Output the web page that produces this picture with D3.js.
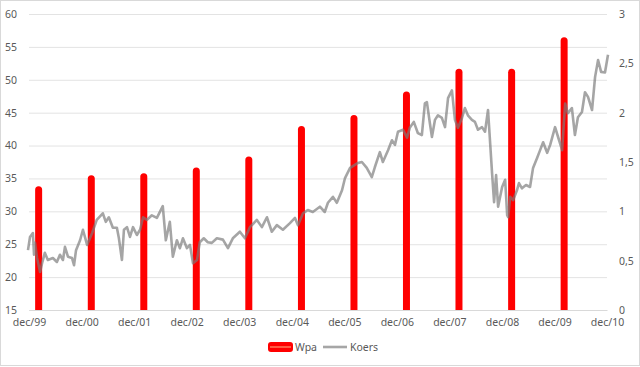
<!DOCTYPE html>
<html><head><meta charset="utf-8">
<script src="https://cdn.jsdelivr.net/npm/d3@7"></script>
<style>
body{margin:0;background:#fff;}
text{font-family:"Noto Sans","Open Sans",sans-serif;fill:#595959;}
</style></head>
<body><svg id="c" width="640" height="367"></svg>
<script>
// ---- data ----
const tickLabels = ["dec/99","dec/00","dec/01","dec/02","dec/03","dec/04","dec/05","dec/06","dec/07","dec/08","dec/09","dec/10"];
const tickDates = ["1999-12-01","2000-12-01","2001-12-01","2002-12-01","2003-12-01","2004-12-01","2005-12-01","2006-12-01","2007-12-01","2008-12-01","2009-12-01","2010-12-01"];
const leftTicks = [15,20,25,30,35,40,45,50,55,60];
const rightTicks = [0,0.5,1,1.5,2,2.5,3];
const rightTickLabels = ["0","0,5","1","1,5","2","2,5","3"];

const wpaDates = ["2000-02-06","2001-02-06","2002-02-06","2003-02-06","2004-02-06","2005-02-06","2006-02-06","2007-02-06","2008-02-06","2009-02-06","2010-02-06"];
const wpaValues = [1.22,1.33,1.35,1.41,1.52,1.83,1.94,2.18,2.41,2.41,2.73];

const koersDates = ["1999-11-24","1999-12-08","1999-12-28","2000-01-05","2000-01-12","2000-01-26","2000-02-16","2000-03-01","2000-03-20","2000-04-10","2000-05-15","2000-06-12","2000-07-03","2000-07-24","2000-08-07","2000-08-28","2000-09-25","2000-10-09","2000-10-23","2000-11-20","2000-12-10","2001-01-08","2001-02-12","2001-03-16","2001-04-27","2001-05-18","2001-06-08","2001-07-06","2001-08-03","2001-08-17","2001-09-07","2001-09-21","2001-10-12","2001-11-02","2001-11-23","2001-12-20","2002-01-11","2002-02-01","2002-02-28","2002-04-03","2002-05-08","2002-06-18","2002-07-09","2002-08-06","2002-08-27","2002-09-24","2002-10-15","2002-11-05","2002-12-03","2002-12-24","2003-01-14","2003-02-11","2003-03-02","2003-03-30","2003-04-27","2003-05-25","2003-06-29","2003-08-10","2003-09-14","2003-10-18","2003-12-06","2004-01-10","2004-02-14","2004-04-02","2004-05-07","2004-06-11","2004-07-15","2004-08-19","2004-09-30","2004-11-18","2004-12-23","2005-01-13","2005-02-17","2005-03-22","2005-04-26","2005-06-14","2005-07-18","2005-08-09","2005-09-13","2005-10-10","2005-11-15","2005-12-05","2006-01-10","2006-02-28","2006-04-02","2006-05-06","2006-06-10","2006-07-01","2006-08-05","2006-08-26","2006-10-01","2006-10-28","2006-11-18","2006-12-09","2007-01-13","2007-02-10","2007-03-01","2007-03-29","2007-04-26","2007-05-24","2007-06-14","2007-06-28","2007-07-18","2007-08-02","2007-08-23","2007-09-13","2007-10-10","2007-11-01","2007-11-22","2007-12-19","2008-01-09","2008-01-30","2008-02-27","2008-03-18","2008-04-08","2008-05-06","2008-05-27","2008-06-17","2008-07-15","2008-08-05","2008-08-26","2008-09-23","2008-10-07","2008-10-21","2008-11-04","2008-12-02","2008-12-23","2009-01-06","2009-01-13","2009-01-27","2009-02-17","2009-03-15","2009-03-29","2009-04-19","2009-05-17","2009-06-14","2009-07-05","2009-08-02","2009-08-23","2009-09-13","2009-10-11","2009-11-01","2009-12-05","2009-12-26","2010-01-23","2010-02-13","2010-03-04","2010-04-01","2010-04-22","2010-05-13","2010-06-10","2010-07-01","2010-07-22","2010-08-19","2010-09-09","2010-09-30","2010-10-21","2010-11-17","2010-12-08"];
const koersValues = [24.1,26.1,26.7,23.4,25.2,22.9,20.8,22.1,23.7,22.6,22.9,22.3,23.4,22.6,24.6,23.1,22.9,21.8,24.1,25.6,27.2,24.9,26.7,28.7,29.7,28.4,29.1,27.5,27.5,25.9,22.6,27.2,27.6,26.1,27.6,26.4,27.2,29.1,28.7,29.4,29.0,30.8,25.6,28.4,23.1,25.6,24.4,25.9,24.4,24.9,22.1,22.6,25.3,25.9,25.3,25.2,25.9,25.7,24.4,25.9,26.9,25.9,27.6,28.7,27.6,29.1,26.9,27.9,27.2,28.2,29.0,27.9,29.7,30.2,29.9,30.7,29.9,31.3,32.2,31.3,33.2,35.0,36.6,37.3,37.5,36.6,35.2,36.7,39.0,37.5,39.3,40.8,40.1,42.1,42.4,41.2,42.7,43.6,41.9,41.6,46.4,46.6,43.5,41.3,43.9,44.6,44.2,42.8,47.2,48.4,43.9,42.7,44.2,45.7,44.6,43.9,43.6,42.4,42.8,42.1,45.4,35.8,31.4,35.5,30.7,33.7,34.8,29.4,29.1,32.2,31.7,33.2,34.3,33.5,34.0,33.7,36.6,38.1,39.3,40.5,38.9,40.1,42.8,41.3,39.3,46.4,44.9,45.7,41.6,44.3,45.1,48.1,47.4,45.4,50.4,53.0,51.2,51.1,53.8];

// ---- layout ----
const W = 640, H = 367;
const L = 29, R = 607, T = 14, B = 310;
const parse = d3.timeParse("%Y-%m-%d");
const svg = d3.select("#c");

svg.append("rect").attr("x",0.5).attr("y",0.5).attr("width",W-1).attr("height",H-2)
  .attr("fill","#fff").attr("stroke","#d9d9d9");

const x = d3.scaleTime().domain([parse(tickDates[0]), parse(tickDates[tickDates.length-1])]).range([L,R]);
const yL = d3.scaleLinear().domain([15,60]).range([B,T]);
const yR = d3.scaleLinear().domain([0,3]).range([B,T]);

// gridlines
svg.append("g").selectAll("line").data(leftTicks).join("line")
  .attr("x1",L).attr("x2",R).attr("y1",d=>yL(d)+0.5).attr("y2",d=>yL(d)+0.5)
  .attr("stroke","#e3e3e3").attr("stroke-width",1);

// left axis
const axL = svg.append("g").attr("transform",`translate(${L-9},0)`)
  .call(d3.axisLeft(yL).tickValues(leftTicks).tickSize(0).tickFormat(d3.format("d")));
axL.select(".domain").remove();
axL.selectAll("text").attr("font-size","10.5px").attr("fill","#595959").style("font-family","Noto Sans");

// right axis
const axR = svg.append("g").attr("transform",`translate(${R+9},0)`)
  .call(d3.axisRight(yR).tickValues(rightTicks).tickSize(0).tickFormat((d,i)=>rightTickLabels[i]));
axR.select(".domain").remove();
axR.selectAll("text").attr("font-size","10.5px").attr("fill","#595959").style("font-family","Noto Sans");

// bottom axis
const tickD = tickDates.map(parse);
const axB = svg.append("g").attr("transform",`translate(0,${B})`)
  .call(d3.axisBottom(x).tickValues(tickD).tickSize(0).tickPadding(9).tickFormat((d,i)=>tickLabels[i]));
axB.select(".domain").attr("stroke","#d9d9d9");
axB.selectAll("text").attr("font-size","10.5px").attr("fill","#595959").style("font-family","Noto Sans");

// bars (Wpa)
svg.append("defs").append("clipPath").attr("id","clip")
  .append("rect").attr("x",0).attr("y",0).attr("width",W).attr("height",B);
svg.append("g").attr("clip-path","url(#clip)").selectAll("line").data(wpaValues).join("line")
  .attr("x1",(d,i)=>x(parse(wpaDates[i]))).attr("x2",(d,i)=>x(parse(wpaDates[i])))
  .attr("y1",yR(0)+4).attr("y2",d=>yR(d))
  .attr("stroke","#ff0000").attr("stroke-width",7).attr("stroke-linecap","round");

// line (Koers)
const pts = koersValues.map((v,i)=>[parse(koersDates[i]),v]);
svg.append("path").datum(pts)
  .attr("d",d3.line().x(d=>x(d[0])).y(d=>yL(d[1])))
  .attr("fill","none").attr("stroke","#7a7a7a").attr("stroke-opacity",0.68)
  .attr("stroke-width",2.6).attr("stroke-linejoin","round");

// legend
const lg = svg.append("g").attr("transform","translate(0,347)");
lg.append("rect").attr("x",268).attr("y",-5).attr("width",25).attr("height",10).attr("rx",3)
  .attr("fill","#ff0000");
lg.append("line").attr("x1",270).attr("x2",291).attr("y1",0).attr("y2",0)
  .attr("stroke","#ff7a5a").attr("stroke-width",1.5);
lg.append("text").attr("x",295).attr("y",4).attr("font-size","10.5px").text("Wpa");
lg.append("line").attr("x1",323).attr("x2",347).attr("y1",0).attr("y2",0)
  .attr("stroke","#a6a6a6").attr("stroke-width",2.6);
lg.append("text").attr("x",350).attr("y",4).attr("font-size","10.5px").text("Koers");
</script></body></html>
